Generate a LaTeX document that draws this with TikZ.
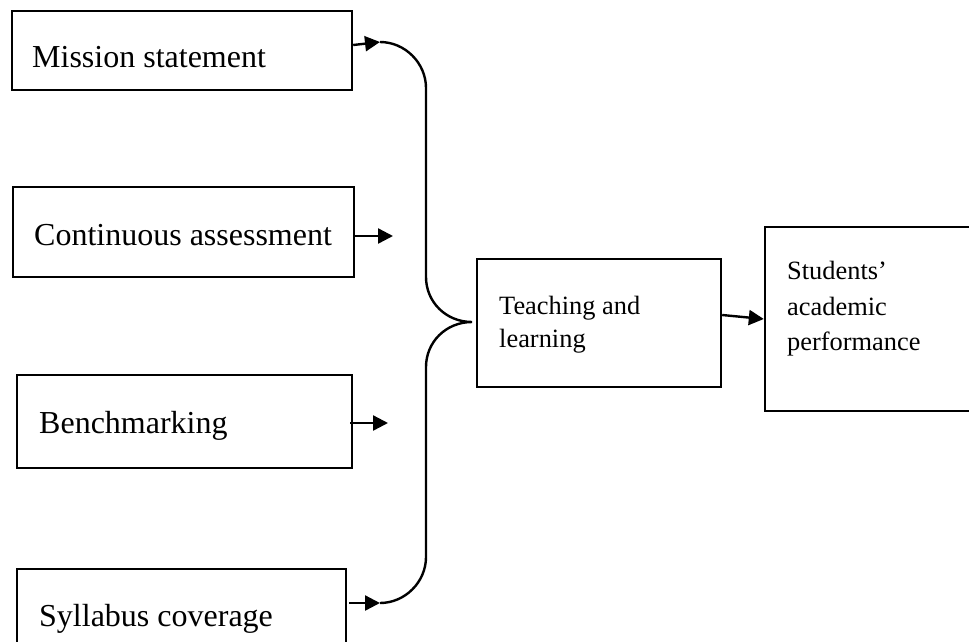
\documentclass[tikz,border=0pt]{standalone}
\usepackage{fontspec}
\setmainfont{Liberation Serif}
\usetikzlibrary{arrows.meta}
\begin{document}
\begin{tikzpicture}[x=1pt,y=-1pt,
  box/.style={draw,line width=2.4pt,inner sep=0pt,rectangle},
  bigtext/.style={anchor=base west,inner sep=0pt,font=\fontsize{32}{38}\selectfont},
  smalltext/.style={anchor=base west,inner sep=0pt,font=\fontsize{26.4}{33}\selectfont},
  line/.style={line width=2.4pt},
  arr/.style={line width=2.4pt,-{Triangle[length=15pt,width=15pt]}}]
\clip (0,0) rectangle (969,641);
\fill[white] (0,0) rectangle (969,641);
% left boxes
\node[box,minimum width=340pt,minimum height=79pt] (m) at (182,50.5) {};
\node[bigtext] (mt) at (32,67) {Mission statement};
\node[box,minimum width=341pt,minimum height=90pt] (c) at (183.5,232) {};
\node[bigtext] (ct) at (34,245) {Continuous assessment};
\node[box,minimum width=335pt,minimum height=93pt] (b) at (184.5,421.5) {};
\node[bigtext] (bt) at (39,433) {Benchmarking};
\node[box,minimum width=329pt,minimum height=112pt] (s) at (181.5,625) {};
\node[bigtext] (st) at (39,626) {Syllabus coverage};
% middle and right boxes
\node[box,minimum width=244pt,minimum height=128pt] (t) at (599,323) {};
\node[smalltext] (tt1) at (499,314) {Teaching and};
\node[smalltext] (tt2) at (499,347) {learning};
\node[box,minimum width=235pt,minimum height=184pt] (p) at (882.5,319) {};
\node[smalltext] (pt1) at (787,279) {Students’};
\node[smalltext] (pt2) at (787,315) {academic};
\node[smalltext] (pt3) at (787,350) {performance};
% coordinates of the brace
\coordinate (a1) at (380,42);
\coordinate (a2) at (393,236);
\coordinate (a3) at (388,423);
\coordinate (a4) at (380,603);
\coordinate (tip) at (472,322);
% brace
\draw[line] (a1) .. controls (405,42) and (426,63) .. (426,88) -- (426,277)
  .. controls (426,302) and (446,322) .. (tip)
  .. controls (446,322) and (426,342) .. (426,367) -- (426,557)
  .. controls (426,582) and (405,603) .. (a4);
% arrows
\draw[arr] (m.east |- 0,45) -- (a1);
\draw[arr] (c.east |- a2) -- (a2);
\draw[arr] ([xshift=-3pt]b.east |- a3) -- (a3);
\draw[arr] ([xshift=2pt]s.east |- a4) -- (a4);
\draw[arr] (t.east |- 0,315) -- (p.west |- 0,319);
\end{tikzpicture}
\end{document}
